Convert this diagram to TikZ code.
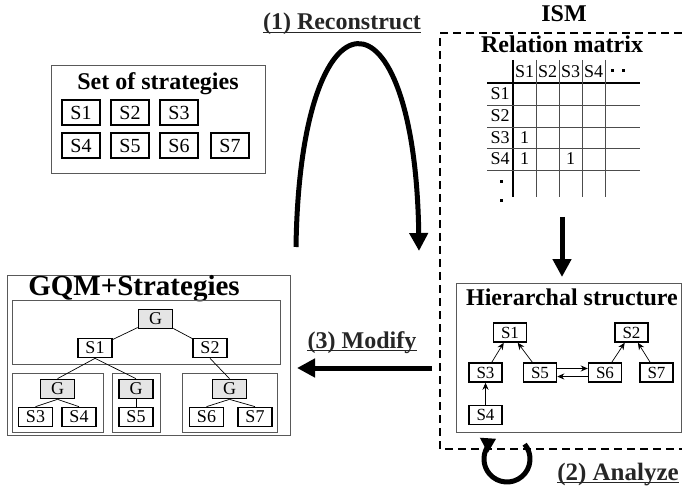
\documentclass[tikz,border=0pt]{standalone}
\usepackage{fontspec}
\setmainfont{Liberation Serif}
\usetikzlibrary{arrows.meta, positioning}

\tikzset{
    title/.style={anchor=base, inner sep=0pt, font=\fontsize{24}{24}\selectfont\bfseries},
    steplabel/.style={title, text=black!85},
    underl/.style={line width=1pt, black!85},
    panel/.style={draw=black!65, line width=0.9pt},
    stratbox/.style={draw, line width=1.7pt, minimum width=38pt, minimum height=25pt, inner sep=0pt, font=\fontsize{20}{20}\selectfont},
    gqmbox/.style={draw, line width=1.7pt, minimum width=34pt, minimum height=19pt, inner sep=0pt, font=\fontsize{18}{18}\selectfont},
    goalbox/.style={gqmbox, fill=black!10},
    hierbox/.style={draw, line width=1.5pt, minimum width=33pt, minimum height=19pt, inner sep=0pt, font=\fontsize{17}{17}\selectfont},
    cell/.style={inner sep=0pt, font=\fontsize{18}{18}\selectfont},
    bigarrow/.style={line width=5pt, -{Triangle[length=18pt, width=18pt]}},
    thinarrow/.style={line width=0.7pt, -{Stealth[length=7pt, width=6pt]}},
    treeline/.style={line width=0.7pt},
}

\begin{document}
\begin{tikzpicture}[x=1pt, y=-1pt]
    \useasboundingbox (0,0) rectangle (682,486);

    % set of strategies
    \draw[panel] (51,65) rectangle (265,173);
    \node[title] (settitle) at (158,90) {Set of strategies};
    \foreach \n/\x in {1/81, 2/130, 3/179}
        {
            \node[stratbox] (set\n) at (\x,112.5) {S\n};
        }
    \foreach \n/\x in {4/81, 5/130, 6/179, 7/230}
        {
            \node[stratbox] (set\n) at (\x,145.5) {S\n};
        }

    % (1) reconstruct
    \node[steplabel] (recon) at (342,30) {(1) Reconstruct};
    \draw[underl] ([yshift=-2.5pt]recon.base west) -- ([yshift=-2.5pt]recon.base east);
    \coordinate (reconstart) at (296,247);
    \coordinate (reconend) at (419,251);
    \draw[bigarrow] (reconstart) .. controls (300,-22) and (415,-22) .. (reconend);

    % ISM frame
    \node[title] (ism) at (564,22) {ISM};
    \draw[dash pattern=on 8pt off 5pt, line width=1.4pt] (682,33) -- (440,33) -- (440,449) -- (682,449);

    % relation matrix
    \node[title] (reltitle) at (562,53) {Relation matrix};
    \draw[line width=2pt] (513,60) -- (513,197);
    \draw[line width=2pt] (487,83) -- (640,83);
    \foreach \x in {536, 559, 582, 605}
        {
            \draw[line width=0.8pt, black!70] (\x,60) -- (\x,197);
        }
    \foreach \y in {105, 127, 148, 170}
        {
            \draw[line width=0.8pt, black!70] (487,\y) -- (640,\y);
        }
    \foreach \n/\x in {1/524.5, 2/547.5, 3/570.5, 4/593.5}
        {
            \node[cell] (col\n) at (\x,72) {S\n};
        }
    \foreach \n/\y in {1/94, 2/116, 3/137.5, 4/159}
        {
            \node[cell] (row\n) at (500,\y) {S\n};
        }
    \node[cell] (m31) at (524.5,137.5) {1};
    \node[cell] (m41) at (524.5,159) {1};
    \node[cell] (m43) at (570.5,159) {1};
    \foreach \x/\y in {612/71, 623/71, 501/182, 501/201}
        {
            \fill (\x-1.5,\y-1.5) rectangle ++(3,3);
        }

    % down to hierarchy
    \coordinate (matbottom) at (562,217);
    \coordinate (hiertop) at (562,277);
    \draw[bigarrow] (matbottom) -- (hiertop);

    % hierarchal structure
    \draw[panel] (456,283) rectangle (681,432);
    \node[title] (hiertitle) at (572,305) {Hierarchal structure};
    \node[hierbox] (h1) at (510,332.5) {S1};
    \node[hierbox] (h2) at (631.5,332.5) {S2};
    \node[hierbox] (h3) at (485.5,372.5) {S3};
    \node[hierbox] (h5) at (540,372.5) {S5};
    \node[hierbox] (h6) at (605,372.5) {S6};
    \node[hierbox] (h7) at (656.5,372.5) {S7};
    \node[hierbox] (h4) at (485.5,415) {S4};
    \foreach \a/\b in {h3/h1, h5/h1, h6/h2, h7/h2, h4/h3}
        {
            \draw[thinarrow] (\a) -- (\b);
        }
    \draw[thinarrow] ([yshift=4pt]h5.east) -- ([yshift=4pt]h6.west);
    \draw[thinarrow] ([yshift=-4pt]h6.west) -- ([yshift=-4pt]h5.east);

    % (2) analyze
    \coordinate (loopc) at (507,459);
    \draw[line width=5pt, -{Triangle[length=14pt, width=16pt]}] (loopc) ++(-40:23) arc[start angle=-40, end angle=242, radius=23];
    \node[steplabel, font=\fontsize{25}{25}\selectfont\bfseries] (analyze) at (618,480) {(2) Analyze};
    \draw[underl] ([yshift=-2.5pt]analyze.base west) -- ([yshift=-2.5pt]analyze.base east);

    % (3) modify
    \node[steplabel] (modify) at (362,348) {(3) Modify};
    \draw[underl] ([yshift=-2.5pt]modify.base west) -- ([yshift=-2.5pt]modify.base east);
    \coordinate (modstart) at (432,368);
    \coordinate (modend) at (297,368);
    \draw[bigarrow] (modstart) -- (modend);

    % GQM+Strategies
    \draw[panel] (7,275) rectangle (290,435);
    \node[title, font=\fontsize{29}{29}\selectfont\bfseries] (gqmtitle) at (134,295) {GQM+Strategies};
    \draw[panel] (12,300) rectangle (280,364);
    \draw[panel] (12,373) rectangle (103,432);
    \draw[panel] (112,373) rectangle (160,432);
    \draw[panel] (182,373) rectangle (277,432);

    \node[goalbox] (gG) at (155.5,319) {G};
    \node[gqmbox] (gS1) at (95,348) {S1};
    \node[gqmbox] (gS2) at (210,348) {S2};
    \node[goalbox] (gG1) at (57.5,389) {G};
    \node[goalbox] (gG2) at (136,389) {G};
    \node[goalbox] (gG3) at (229.5,389) {G};
    \node[gqmbox] (gS3) at (35.5,417) {S3};
    \node[gqmbox] (gS4) at (79,417) {S4};
    \node[gqmbox] (gS5) at (136,417) {S5};
    \node[gqmbox] (gS6) at (206.5,417) {S6};
    \node[gqmbox] (gS7) at (255,417) {S7};

    \draw[treeline] (gG) -- (gS1);
    \draw[treeline] (gG) -- (gS2);
    \draw[treeline] (gS1.south) -- (gG1.north);
    \draw[treeline] (gS1.south) -- (gG2.north);
    \draw[treeline] (gS2.south) -- (gG3.north);
    \foreach \g/\s in {gG1/gS3, gG1/gS4, gG2/gS5, gG3/gS6, gG3/gS7}
        {
            \draw[treeline] (\g.south) -- (\s.north);
        }

\end{tikzpicture}
\end{document}
